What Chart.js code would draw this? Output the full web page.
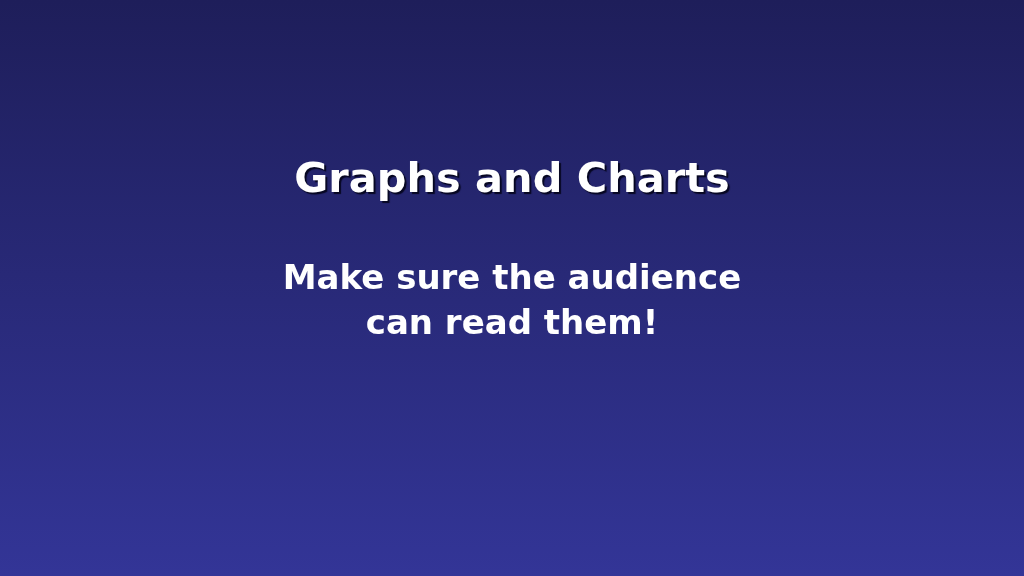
<!DOCTYPE html>
<html>
<head>
<meta charset="utf-8">
<title>Graphs and Charts</title>
<script src="https://cdn.jsdelivr.net/npm/chart.js@4/dist/chart.umd.min.js"></script>
<style>
  html, body { margin: 0; padding: 0; background: #1f1f5c; }
  #wrap { width: 1024px; height: 576px; }
</style>
</head>
<body>
<div id="wrap"><canvas id="slide" width="1024" height="576"></canvas></div>
<script>
// slide text, kept as plain arrays
const titleText = 'Graphs and Charts';
const subtitleLines = ['Make sure the audience', 'can read them!'];

// no plotted series on this slide
const categories = [];
const seriesValues = [];

const bgTop = '#1e1e5a';
const bgBottom = '#333597';

const slideBackground = {
    id: 'slideBackground',
    beforeDraw(chart) {
        const ctx = chart.ctx;
        const grad = ctx.createLinearGradient(0, 0, 0, chart.height);
        grad.addColorStop(0, bgTop);
        grad.addColorStop(1, bgBottom);
        ctx.save();
        ctx.fillStyle = grad;
        ctx.fillRect(0, 0, chart.width, chart.height);
        ctx.restore();
    }
};

// the title on the slide has a small dark drop shadow, the subtitle does not
const titleShadow = {
    id: 'titleShadow',
    afterLayout(chart) {
        const block = chart.titleBlock;
        if (!block || block._shadowWrapped) return;
        const draw = block.draw.bind(block);
        block.draw = function() {
            const ctx = chart.ctx;
            ctx.save();
            ctx.shadowColor = 'rgba(5, 5, 30, 0.95)';
            ctx.shadowOffsetX = 2;
            ctx.shadowOffsetY = 2;
            ctx.shadowBlur = 1;
            draw();
            ctx.restore();
        };
        block._shadowWrapped = true;
    }
};

document.addEventListener("DOMContentLoaded", function() {
    const chart = new Chart(document.getElementById('slide'), {
        type: 'bar',
        data: {
            labels: categories,
            datasets: [{ data: seriesValues }]
        },
        options: {
            responsive: false,
            animation: false,
            devicePixelRatio: 1,
            layout: { padding: 0 },
            scales: {
                x: { display: false },
                y: { display: false }
            },
            plugins: {
                legend: { display: false },
                tooltip: { enabled: false },
                title: {
                    display: true,
                    text: titleText,
                    color: '#ffffff',
                    font: { family: 'DejaVu Sans', size: 41.5, weight: 'bold', lineHeight: 1.2 },
                    padding: { top: 156, bottom: 0 }
                },
                subtitle: {
                    display: true,
                    text: subtitleLines,
                    color: '#ffffff',
                    font: { family: 'DejaVu Sans', size: 34, weight: 'bold', lineHeight: 45 / 34 },
                    padding: { top: 52, bottom: 0 }
                }
            }
        },
        plugins: [slideBackground, titleShadow]
    });
});
</script>
</body>
</html>
